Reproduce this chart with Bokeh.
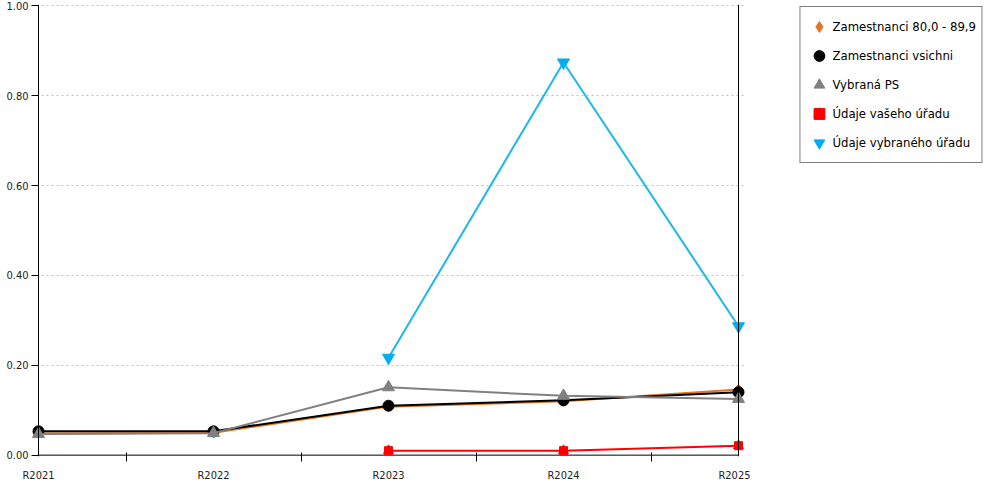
from bokeh.plotting import figure
from bokeh.layouts import row
from bokeh.models import Range1d, FixedTicker, Span, Legend, LegendItem
from bokeh.embed import file_html
from bokeh.resources import INLINE
import math

categories = ["R2021", "R2022", "R2023", "R2024", "R2025"]
zam_80 = [0.048, 0.050, 0.108, 0.120, 0.146]
zam_all = [0.053, 0.053, 0.110, 0.122, 0.140]
vybrana_ps = [0.047, 0.049, 0.151, 0.132, 0.125]
vas_urad = [None, None, 0.010, 0.010, 0.021]
vybrany_urad = [None, None, 0.217, 0.874, 0.287]
y_ticks = [0.0, 0.2, 0.4, 0.6, 0.8, 1.0]
y_labels = ["0.00", "0.20", "0.40", "0.60", "0.80", "1.00"]
series_names = ["Zamestnanci 80,0 - 89,9", "Zamestnanci vsichni", "Vybraná PS",
                "Údaje vašeho úřadu", "Údaje vybraného úřadu"]

FONT = "DejaVu Sans Condensed"
ORANGE, BLACK, GRAY, RED, BLUE = "#e8741e", "#000000", "#808080", "#ff0000", "#00aeef"

idx = list(range(len(categories)))
PAD = 0.04

p = figure(width=750, height=484, x_range=Range1d(idx[0] - PAD, idx[-1] + PAD),
           y_range=Range1d(-0.003, 1.003), output_backend="svg", toolbar_location=None,
           min_border_left=31, min_border_top=4, min_border_bottom=20,
           min_border_right=5)
p.outline_line_color = None
p.xgrid.grid_line_color = None
p.ygrid.grid_line_color = "#c0c0c0"
p.ygrid.grid_line_dash = "2 3"
p.ygrid.ticker = FixedTicker(ticks=y_ticks[1:])

p.yaxis.ticker = FixedTicker(ticks=y_ticks)
p.yaxis.major_label_overrides = {t: l for t, l in zip(y_ticks, y_labels)}
p.yaxis.major_tick_in = 7
p.yaxis.major_tick_out = 0
p.yaxis.major_label_standoff = 3

p.xaxis.ticker = FixedTicker(ticks=idx, minor_ticks=[i + 0.5 for i in idx[:-1]])
p.xaxis.major_label_overrides = {i: c for i, c in enumerate(categories)}
p.xaxis.major_tick_in = 0
p.xaxis.major_tick_out = 0
p.xaxis.minor_tick_in = 4
p.xaxis.minor_tick_out = 5
p.xaxis.major_label_standoff = 7

for ax in (p.xaxis, p.yaxis):
    ax.axis_line_color = None
    ax.major_tick_line_color = "black"
    ax.major_label_text_font = FONT
    ax.major_label_text_font_size = "11px"
    ax.major_label_text_color = "#222222"
p.xaxis.minor_tick_line_color = "black"
p.yaxis.minor_tick_line_color = None

# axis lines
p.add_layout(Span(location=idx[0], dimension="height", line_color="black", line_width=1))
p.add_layout(Span(location=idx[-1], dimension="height", line_color="black", line_width=1))
p.segment(x0=[idx[0]], y0=[0], x1=[idx[-1]], y1=[0], line_color="black", line_width=1)


def sub(vals):
    xs = [i for i, v in zip(idx, vals) if v is not None]
    ys = [v for v in vals if v is not None]
    return xs, ys


# legend panel figure (hidden proxy renderers carry the legend glyphs)
lg = figure(width=234, height=484, output_backend="svg", toolbar_location=None,
            x_axis_type=None, y_axis_type=None, min_border=0,
            x_range=Range1d(0, 1), y_range=Range1d(0, 1))
lg.outline_line_color = None
lg.grid.visible = False
items = []


def series(vals, color, line_color, label, markers, legend_markers):
    xs, ys = sub(vals)
    p.line(xs, ys, line_color=line_color, line_width=2)
    for m in markers:
        p.scatter(xs, ys, fill_color=color, line_color=color, **m)
    proxies = [lg.scatter(xs, ys, fill_color=color, line_color=color, visible=False, marker=m)
               for m in legend_markers]
    items.append(LegendItem(label=label, renderers=proxies))


series(zam_80, ORANGE, ORANGE, series_names[0],
       [dict(marker="square", angle=math.pi / 4, size=7)], ["diamond"])
series(zam_all, BLACK, BLACK, series_names[1], [dict(marker="circle", size=11)], ["circle"])
series(vybrana_ps, GRAY, GRAY, series_names[2], [dict(marker="triangle", size=12)], ["triangle"])
series(vas_urad, RED, RED, series_names[3],
       [dict(marker="square", size=8), dict(marker="triangle", size=10)], ["square", "triangle"])
series(vybrany_urad, BLUE, "#1ab8ee", series_names[4],
       [dict(marker="inverted_triangle", size=12)], ["inverted_triangle"])

legend = Legend(items=items, location="top_right")
legend.label_text_font = FONT
legend.label_text_font_size = "13px"
legend.label_text_color = "black"
legend.border_line_color = "black"
legend.border_line_width = 1
legend.padding = 5
legend.margin = 2
legend.spacing = 0
legend.glyph_width = 27
legend.glyph_height = 29
legend.label_height = 29
legend.label_standoff = -4
legend.background_fill_color = "white"
legend.inactive_fill_alpha = 0
lg.add_layout(legend, "center")

layout = row(p, lg, spacing=0)
open("out.html", "w").write(file_html(layout, INLINE))
